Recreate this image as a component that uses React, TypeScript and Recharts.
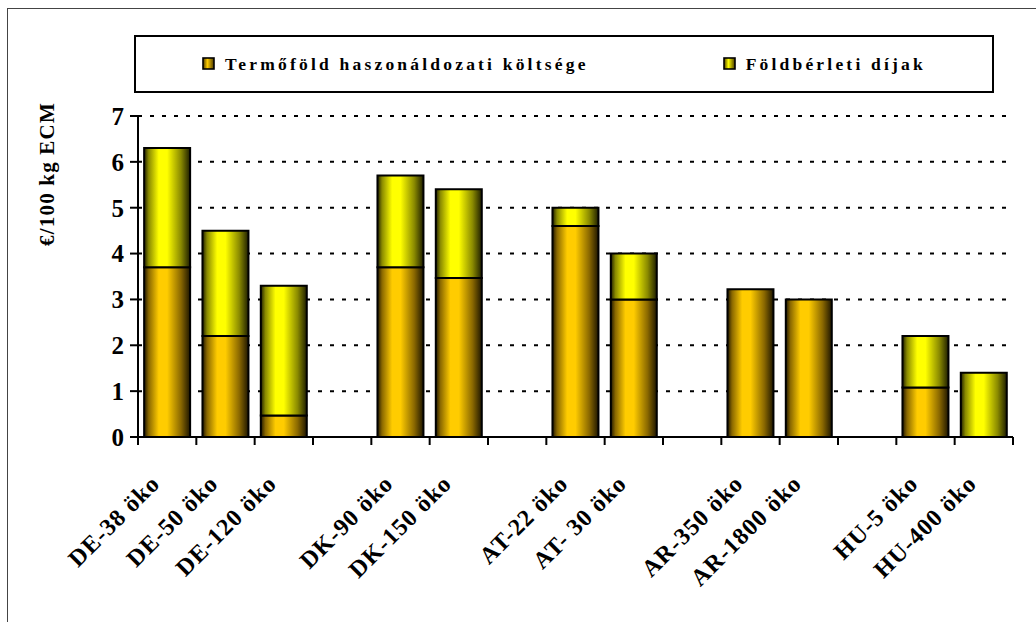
import React from "react";
import {
  BarChart,
  Bar,
  XAxis,
  YAxis,
  CartesianGrid,
  Legend,
} from "recharts";

// Farms, with blank slots separating the country groups
const categories = [
  "DE-38 öko",
  "DE-50 öko",
  "DE-120 öko",
  "",
  "DK-90 öko",
  "DK-150 öko",
  "",
  "AT-22 öko",
  "AT- 30 öko",
  "",
  "AR-350 öko",
  "AR-1800 öko",
  "",
  "HU-5 öko",
  "HU-400 öko",
];

// €/100 kg ECM
const opportunityCost = [3.7, 2.2, 0.47, null, 3.7, 3.47, null, 4.6, 3.0, null, 3.22, 3.0, null, 1.08, 0];
const landRent = [2.6, 2.3, 2.83, null, 2.0, 1.93, null, 0.4, 1.0, null, 0, 0, null, 1.12, 1.4];

const yTicks = [0, 1, 2, 3, 4, 5, 6, 7];

const seriesNames = ["Termőföld haszonáldozati költsége", "Földbérleti díjak"];

const data = categories.map((name, i) => ({
  name,
  cost: opportunityCost[i],
  rent: landRent[i],
}));

const FONT = '"Liberation Serif", "Times New Roman", serif';

// Category label plus tick marks on the slot boundaries
const CategoryTick = (props: any) => {
  const { x, y, payload, index, width } = props;
  const half = width / categories.length / 2;
  const label = payload.value;
  return (
    <g>
      <line x1={x - half} y1={y} x2={x - half} y2={y + 8} stroke="#000" strokeWidth={2} />
      {index === categories.length - 1 && (
        <line x1={x + half} y1={y} x2={x + half} y2={y + 8} stroke="#000" strokeWidth={2} />
      )}
      {label ? (
        <text
          transform={`translate(${x - 6},${y + 48}) rotate(-45)`}
          textAnchor="end"
          fontFamily={FONT}
          fontWeight="bold"
          fontSize={24}
          letterSpacing={1}
          fill="#000"
        >
          {label}
        </text>
      ) : null}
    </g>
  );
};

const YLabel = (props: any) => {
  const { viewBox } = props;
  const cx = viewBox.x + 17;
  const cy = viewBox.y + 58;
  return (
    <text
      transform={`translate(${cx},${cy}) rotate(-90)`}
      textAnchor="middle"
      dominantBaseline="central"
      fontFamily={FONT}
      fontWeight="bold"
      fontSize={21}
      letterSpacing={1.2}
      fill="#000"
    >
      €/100 kg ECM
    </text>
  );
};

const Marker = ({ color }: { color: string }) => (
  <svg width={14} height={14} style={{ display: "block" }}>
    <defs>
      <linearGradient id={`mk-${color}`} x1="0" y1="0" x2="1" y2="0">
        <stop offset="0" stopColor="#4a3800" />
        <stop offset="0.4" stopColor={color} />
        <stop offset="1" stopColor="#4a3800" />
      </linearGradient>
    </defs>
    <rect x={1} y={1} width={11} height={11} fill={`url(#mk-${color})`} stroke="#000" strokeWidth={1.6} />
  </svg>
);

const LegendBox = () => (
  <div
    style={{
      position: "absolute",
      left: 134,
      top: 35,
      width: 856,
      height: 54,
      border: "2px solid #000",
      background: "#fff",
      display: "flex",
      alignItems: "center",
      justifyContent: "center",
      gap: 134,
      fontFamily: FONT,
      fontWeight: "bold",
      fontSize: 17.5,
      letterSpacing: 3.2,
      color: "#000",
    }}
  >
    <div style={{ display: "flex", alignItems: "center", gap: 9 }}>
      <Marker color="#FFCC00" />
      <span>{seriesNames[0]}</span>
    </div>
    <div style={{ display: "flex", alignItems: "center", gap: 9 }}>
      <Marker color="#FFFF00" />
      <span>{seriesNames[1]}</span>
    </div>
  </div>
);

const gradientStops = (c: string, dark: string, darker: string) => [
  <stop key="a" offset="0" stopColor={dark} />,
  <stop key="b" offset="0.1" stopColor={darker} />,
  <stop key="c" offset="0.32" stopColor={c} />,
  <stop key="d" offset="0.5" stopColor={c} />,
  <stop key="e" offset="0.8" stopColor={darker} />,
  <stop key="f" offset="1" stopColor={dark} />,
];

export default function App() {
  return (
    <div
      style={{
        position: "absolute",
        left: 0,
        top: 0,
        width: 1036,
        height: 622,
        overflow: "hidden",
        background: "#fff",
      }}
    >
      <div
        style={{
          position: "absolute",
          left: 7,
          top: 8,
          width: 1100,
          height: 700,
          borderTop: "1.5px solid #444",
          borderLeft: "1.5px solid #444",
        }}
      />
      <BarChart
        width={1036}
        height={622}
        data={data}
        margin={{ top: 116, right: 23, bottom: 0, left: 30 }}
        barCategoryGap="10.5%"
        style={{ position: "absolute", left: 0, top: 0 }}
      >
        <defs>
          <linearGradient id="gCost" x1="0" y1="0" x2="1" y2="0">
            {gradientStops("#FFCC00", "#1e1600", "#8a6800")}
          </linearGradient>
          <linearGradient id="gRent" x1="0" y1="0" x2="1" y2="0">
            {gradientStops("#FFFF00", "#1e1e00", "#8a8a00")}
          </linearGradient>
        </defs>
        <CartesianGrid
          vertical={false}
          stroke="#000"
          strokeWidth={2}
          strokeDasharray="4 8"
          horizontalValues={[1, 2, 3, 4, 5, 6, 7]}
        />
        <XAxis
          dataKey="name"
          height={185}
          axisLine={{ stroke: "#000", strokeWidth: 2 }}
          tickLine={false}
          tickSize={0}
          tickMargin={0}
          interval={0}
          tick={<CategoryTick />}
        />
        <YAxis
          domain={[0, 7]}
          ticks={yTicks}
          width={108}
          interval={0}
          tickSize={8}
          tickMargin={6}
          tickLine={{ stroke: "#000", strokeWidth: 2 }}
          axisLine={{ stroke: "#000", strokeWidth: 2 }}
          tick={{ fill: "#000", fontFamily: FONT, fontWeight: "bold", fontSize: 25 }}
          label={<YLabel />}
        />
        <Legend content={() => <LegendBox />} wrapperStyle={{ position: "absolute", left: 0, top: 0, width: 0, height: 0 }} />
        <Bar
          dataKey="cost"
          name={seriesNames[0]}
          stackId="s"
          fill="url(#gCost)"
          stroke="#000"
          strokeWidth={2}
          isAnimationActive={false}
        />
        <Bar
          dataKey="rent"
          name={seriesNames[1]}
          stackId="s"
          fill="url(#gRent)"
          stroke="#000"
          strokeWidth={2}
          isAnimationActive={false}
        />
      </BarChart>
    </div>
  );
}
